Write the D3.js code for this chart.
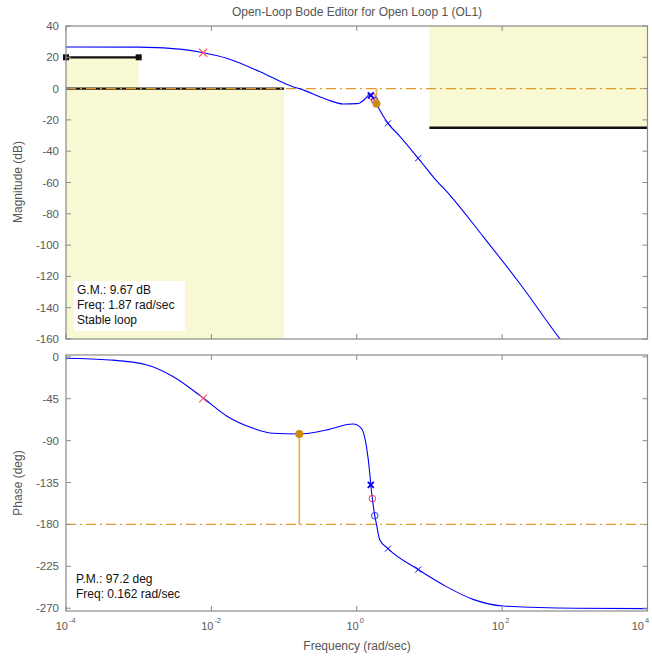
<!DOCTYPE html>
<html><head><meta charset="utf-8">
<script src="https://cdn.jsdelivr.net/npm/d3@7"></script>
<style>
html,body{margin:0;padding:0;background:#fff;overflow:hidden;}
text{font-family:"Liberation Sans",Arial,Helvetica,sans-serif;}
</style></head>
<body>
<svg id="c" width="652" height="657"></svg>
<script>
// ---- data ----
const freqTicks = [1e-4, 1e-2, 1, 1e2, 1e4];
const freqTickExp = ["-4", "-2", "0", "2", "4"];
const magTicks = [40, 20, 0, -20, -40, -60, -80, -100, -120, -140, -160];
const phaseTicks = [0, -45, -90, -135, -180, -225, -270];

const magFreq = [0.0001, 0.001, 0.00178, 0.0037, 0.0078, 0.0162, 0.0468, 0.132, 0.162, 0.38, 0.646, 1.0, 1.1, 1.29, 1.51, 1.64, 1.87, 2.07, 2.69, 3.89, 7.0, 11.7, 19.1, 55, 174, 617, 1000];
const magDb   = [26.6, 26.5, 26.2, 25.2, 22.9, 19.4, 10.8, 1.2, 0.0, -6.8, -9.8, -9.6, -9.2, -6.8, -3.6, -5.0, -9.67, -13.7, -22.2, -30.3, -44.5, -57.3, -68, -94.6, -124.4, -159.6, -172];

const phaseFreq = [0.0001, 0.0004, 0.0013, 0.003, 0.0078, 0.0162, 0.0376, 0.0708, 0.162, 0.383, 0.794, 0.891, 1.16, 1.36, 1.51, 1.56, 1.64, 1.77, 1.87, 2.07, 2.69, 7.0, 17.1, 39.8, 102, 1047, 10000];
const phaseDeg  = [-1.5, -3.3, -8.7, -21.3, -44.5, -63.5, -76.7, -82.1, -82.8, -78.5, -72.4, -72.1, -76.7, -96.5, -125, -137.6, -152.3, -170.6, -180, -196.5, -206, -228.5, -246.8, -260.5, -267.6, -270.1, -270.5];

// design constraints (lower gain bounds and upper gain bound)
const lowBoundF0 = [1e-4, 1e-4];
const lowBoundF1 = [1e-3, 1e-1];
const lowBoundDb = [20, 0];
const highBoundF0 = [10];
const highBoundF1 = [1e4];
const highBoundDb = [-25];

// markers
const redXFreq = [0.0077];   const redXMag = [22.9];  const redXPhase = [-44.5];
const blueXFreq = [1.56, 2.69, 7.0]; const blueXMag = [-4.3, -22.2, -44.5]; const blueXPhase = [-137.6, -206, -228.5];
const redOFreq = [1.64];  const redOMag = [-5.2]; const redOPhase = [-152.3];
const blueOFreq = [1.77]; const blueOMag = [-7.6]; const blueOPhase = [-170.6];
const gmFreq = 1.87, gmDb = 9.67;
const pmFreq = 0.162, pmDeg = 97.2;

const magCrossDb = 0, phaseCrossDeg = -180;

// ---- layout ----
const svg = d3.select("#c");
const X0 = 66, X1 = 647.5;
const magTop = 26, magBot = 339;
const phTop = 355, phBot = 611;

const x = d3.scaleLog().domain([1e-4, 1e4]).range([X0, X1]);
const yMag = d3.scaleLinear().domain([40, -160]).range([magTop, magBot]);
const yPh = d3.scaleLinear().domain([2, -273]).range([phTop, phBot]);

const axisCol = "#8a8a8a", tickTxt = "#5a5a5a";
const yellow = "#f8f8d2", orange = "#e09a28", dotOrange = "#cf8a12";

const defs = svg.append("defs");
defs.append("clipPath").attr("id", "cm").append("rect")
  .attr("x", X0).attr("y", magTop).attr("width", X1 - X0).attr("height", magBot - magTop);
defs.append("clipPath").attr("id", "cp").append("rect")
  .attr("x", X0).attr("y", phTop).attr("width", X1 - X0).attr("height", phBot - phTop);

// title
svg.append("text").attr("x", 357).attr("y", 16).attr("text-anchor", "middle")
  .attr("font-size", 12).attr("fill", "#555").text("Open-Loop Bode Editor for Open Loop 1 (OL1)");

// ---- magnitude panel ----
const gm = svg.append("g");
const gmc = gm.append("g").attr("clip-path", "url(#cm)");
lowBoundDb.forEach((d, i) => {
  gmc.append("rect").attr("x", x(lowBoundF0[i])).attr("y", yMag(d))
    .attr("width", x(lowBoundF1[i]) - x(lowBoundF0[i])).attr("height", yMag(-160) - yMag(d))
    .attr("fill", yellow);
});
highBoundDb.forEach((d, i) => {
  gmc.append("rect").attr("x", x(highBoundF0[i])).attr("y", yMag(40))
    .attr("width", x(highBoundF1[i]) - x(highBoundF0[i])).attr("height", yMag(d) - yMag(40))
    .attr("fill", yellow);
});
lowBoundDb.forEach((d, i) => {
  gmc.append("line").attr("x1", x(lowBoundF0[i])).attr("x2", x(lowBoundF1[i]))
    .attr("y1", yMag(d)).attr("y2", yMag(d)).attr("stroke", "#111").attr("stroke-width", 2.2);
});
[lowBoundF0[0], lowBoundF1[0]].forEach(f => {
  gm.append("rect").attr("x", x(f) - 3).attr("y", yMag(lowBoundDb[0]) - 3).attr("width", 6).attr("height", 6).attr("fill", "#111");
});
highBoundDb.forEach((d, i) => {
  gmc.append("line").attr("x1", x(highBoundF0[i])).attr("x2", x(highBoundF1[i]))
    .attr("y1", yMag(d)).attr("y2", yMag(d)).attr("stroke", "#111").attr("stroke-width", 2.5);
});
gmc.append("line").attr("x1", X0).attr("x2", X1).attr("y1", yMag(magCrossDb)).attr("y2", yMag(magCrossDb))
  .attr("stroke", orange).attr("stroke-width", 1.3).attr("stroke-dasharray", "10,4,2,4");
gmc.append("line").attr("x1", x(gmFreq)).attr("x2", x(gmFreq)).attr("y1", yMag(0)).attr("y2", yMag(-gmDb))
  .attr("stroke", "#e8ae50").attr("stroke-width", 1.6);
const lineMag = d3.line().x((d, i) => x(magFreq[i])).y(d => yMag(d)).curve(d3.curveMonotoneX);
gmc.append("path").datum(magDb).attr("d", lineMag).attr("fill", "none").attr("stroke", "#0000ff").attr("stroke-width", 1.1);

// ---- phase panel ----
const gp = svg.append("g");
const gpc = gp.append("g").attr("clip-path", "url(#cp)");
gpc.append("line").attr("x1", X0).attr("x2", X1).attr("y1", yPh(phaseCrossDeg)).attr("y2", yPh(phaseCrossDeg))
  .attr("stroke", orange).attr("stroke-width", 1.3).attr("stroke-dasharray", "10,4,2,4");
gpc.append("line").attr("x1", x(pmFreq)).attr("x2", x(pmFreq)).attr("y1", yPh(-180)).attr("y2", yPh(pmDeg - 180))
  .attr("stroke", "#e8ae50").attr("stroke-width", 1.6);
const linePh = d3.line().x((d, i) => x(phaseFreq[i])).y(d => yPh(d)).curve(d3.curveMonotoneX);
gpc.append("path").datum(phaseDeg).attr("d", linePh).attr("fill", "none").attr("stroke", "#0000ff").attr("stroke-width", 1.1);

// ---- markers ----
function xMark(g, px, py, s, col, w) {
  g.append("path").attr("d", `M${px - s},${py - s}L${px + s},${py + s}M${px - s},${py + s}L${px + s},${py - s}`)
    .attr("stroke", col).attr("stroke-width", w).attr("fill", "none");
}
redXFreq.forEach((f, i) => { xMark(gm, x(f), yMag(redXMag[i]), 4, "#ff5a5a", 1.1); xMark(gp, x(f), yPh(redXPhase[i]), 4, "#ff5a5a", 1.1); });
redOFreq.forEach((f, i) => {
  gm.append("circle").attr("cx", x(f)).attr("cy", yMag(redOMag[i])).attr("r", 3.3).attr("fill", "none").attr("stroke", "#ff3030").attr("stroke-width", 1);
  gp.append("circle").attr("cx", x(f)).attr("cy", yPh(redOPhase[i])).attr("r", 3.3).attr("fill", "none").attr("stroke", "#ff3030").attr("stroke-width", 1);
});
blueOFreq.forEach((f, i) => {
  gm.append("circle").attr("cx", x(f)).attr("cy", yMag(blueOMag[i])).attr("r", 3.3).attr("fill", "none").attr("stroke", "#3030ff").attr("stroke-width", 1);
  gp.append("circle").attr("cx", x(f)).attr("cy", yPh(blueOPhase[i])).attr("r", 3.3).attr("fill", "none").attr("stroke", "#3030ff").attr("stroke-width", 1);
});
blueXFreq.forEach((f, i) => {
  const w = i === 0 ? 1.8 : 1.0;
  xMark(gm, x(f), yMag(blueXMag[i]), 3, "#0000ee", w);
  xMark(gp, x(f), yPh(blueXPhase[i]), 3, "#0000ee", w);
});
gm.append("circle").attr("cx", x(gmFreq)).attr("cy", yMag(-gmDb)).attr("r", 4).attr("fill", dotOrange);
gp.append("circle").attr("cx", x(pmFreq)).attr("cy", yPh(pmDeg - 180)).attr("r", 4).attr("fill", dotOrange);

// ---- info boxes ----
const gmBox = gm.append("g");
gmBox.append("rect").attr("x", 74).attr("y", 281).attr("width", 111).attr("height", 50).attr("fill", "#fff");
["G.M.: " + gmDb + " dB", "Freq: " + gmFreq + " rad/sec", "Stable loop"].forEach((t, i) => {
  gmBox.append("text").attr("x", 77).attr("y", 294 + i * 15).attr("font-size", 12).attr("fill", "#111").text(t);
});
["P.M.: " + pmDeg + " deg", "Freq: " + pmFreq + " rad/sec"].forEach((t, i) => {
  gp.append("text").attr("x", 76).attr("y", 583 + i * 15).attr("font-size", 12).attr("fill", "#111").text(t);
});

// ---- axes frames & ticks ----
function frame(top, bot, yScale, ticks) {
  const g = svg.append("g");
  g.append("rect").attr("x", X0).attr("y", top).attr("width", X1 - X0).attr("height", bot - top)
    .attr("fill", "none").attr("stroke", axisCol).attr("stroke-width", 1.2);
  freqTicks.forEach(f => {
    g.append("line").attr("x1", x(f)).attr("x2", x(f)).attr("y1", top).attr("y2", top + 5).attr("stroke", axisCol);
    g.append("line").attr("x1", x(f)).attr("x2", x(f)).attr("y1", bot).attr("y2", bot - 5).attr("stroke", axisCol);
  });
  ticks.forEach(t => {
    const yy = yScale(t);
    g.append("line").attr("x1", X0).attr("x2", X0 + 5).attr("y1", yy).attr("y2", yy).attr("stroke", axisCol);
    g.append("line").attr("x1", X1).attr("x2", X1 - 5).attr("y1", yy).attr("y2", yy).attr("stroke", axisCol);
    g.append("text").attr("x", 59).attr("y", yy + 4).attr("text-anchor", "end")
      .attr("font-size", 11.5).attr("fill", tickTxt).text(t);
  });
}
frame(magTop, magBot, yMag, magTicks);
frame(phTop, phBot, yPh, phaseTicks);

// x tick labels (last one nudged left so it stays inside the window)
freqTicks.forEach((f, i) => {
  const px = Math.min(x(f), 642);
  svg.append("text").attr("x", px + 2).attr("y", 630).attr("text-anchor", "end")
    .attr("font-size", 11).attr("fill", tickTxt).text("10");
  svg.append("text").attr("x", px + 3).attr("y", 623).attr("text-anchor", "start")
    .attr("font-size", 7.5).attr("fill", tickTxt).text(freqTickExp[i]);
});

// axis labels
svg.append("text").attr("x", 357).attr("y", 650).attr("text-anchor", "middle")
  .attr("font-size", 12).attr("fill", "#555").text("Frequency (rad/sec)");
svg.append("text").attr("transform", "translate(22,182) rotate(-90)").attr("text-anchor", "middle")
  .attr("font-size", 12).attr("fill", "#555").text("Magnitude (dB)");
svg.append("text").attr("transform", "translate(22,483) rotate(-90)").attr("text-anchor", "middle")
  .attr("font-size", 12).attr("fill", "#555").text("Phase (deg)");
</script>
</body></html>
